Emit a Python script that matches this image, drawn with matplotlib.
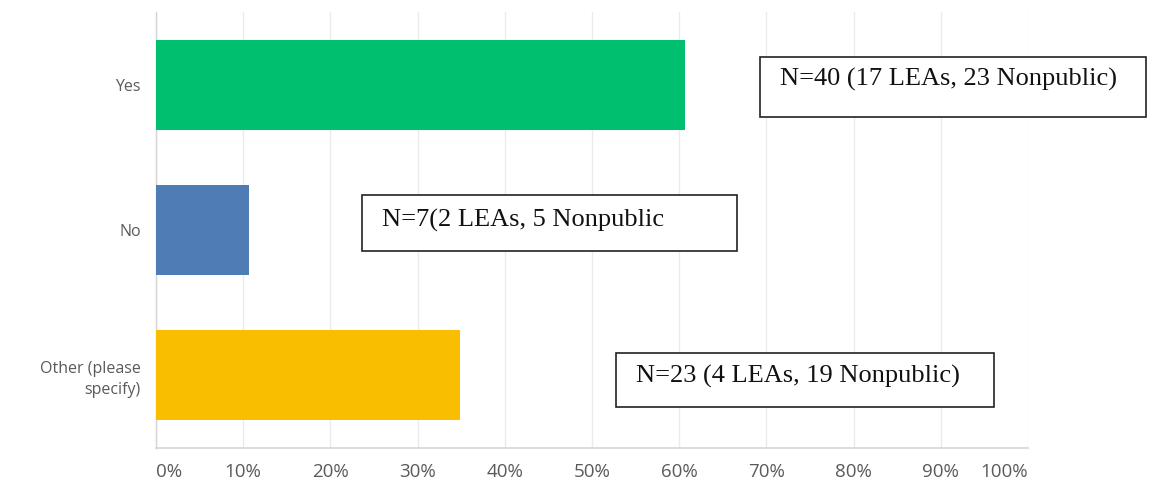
import matplotlib
matplotlib.use('Agg')
import matplotlib.pyplot as plt
from matplotlib.patches import Rectangle

categories = ['Yes', 'No', 'Other (please\nspecify)']
percents = [60.61, 10.61, 34.85]
colors = ['#00BF6F', '#507CB6', '#F9BE00']
notes = ['N=40 (17 LEAs, 23 Nonpublic)', 'N=7(2 LEAs, 5 Nonpublic', 'N=23 (4 LEAs, 19 Nonpublic)']
xticks = [0, 10, 20, 30, 40, 50, 60, 70, 80, 90, 100]
xticklabels = ['0%', '10%', '20%', '30%', '40%', '50%', '60%', '70%', '80%', '90%', '100%']

W, H = 1151, 493
fig = plt.figure(figsize=(W / 100, H / 100), dpi=100)


def fx(px):
    return px / W


def fy(py):
    return 1 - py / H


ax = fig.add_axes([fx(156), fy(448), fx(1028) - fx(156), fy(12) - fy(448)])

ypos = list(range(len(categories)))
ax.barh(ypos, percents, height=0.62, color=colors, zorder=3)
ax.set_ylim(2.5, -0.5)
ax.set_xlim(0, 100)

ax.set_xticks(xticks)
ax.set_xticklabels(xticklabels, fontfamily='Open Sans', fontsize=13.5, color='#5a5a5a')
ax.get_xticklabels()[0].set_horizontalalignment('left')
ax.get_xticklabels()[-1].set_horizontalalignment('right')
ax.set_yticks(ypos)
ax.set_yticklabels(categories, fontfamily='Open Sans', fontsize=11.5, color='#5a5a5a',
                   linespacing=1.4)
ax.tick_params(axis='both', length=0)
ax.tick_params(axis='x', pad=11)
ax.tick_params(axis='y', pad=11)

ax.grid(axis='x', color='#ebebeb', linewidth=1, zorder=0)
for s in ['top', 'right']:
    ax.spines[s].set_visible(False)
ax.spines['left'].set_color('#d5d5d5')
ax.spines['bottom'].set_color('#d5d5d5')
ax.spines['left'].set_linewidth(1)
ax.spines['bottom'].set_linewidth(1.2)

# text boxes (pixel layout from the reference)
boxes = [(760, 57, 1146, 117), (362, 195, 737, 251), (616, 353, 994, 407)]
text_pos = [(780, 79), (382, 220), (636, 376)]
for (x0, y0, x1, y1), (tx, ty), note in zip(boxes, text_pos, notes):
    rect = Rectangle((fx(x0), fy(y1)), fx(x1) - fx(x0), fy(y0) - fy(y1),
                     transform=fig.transFigure, fill=True, facecolor='white',
                     edgecolor='#222222', linewidth=1.2, zorder=5)
    fig.add_artist(rect)
    fig.text(fx(tx), fy(ty), note, fontfamily='Liberation Serif', fontsize=19,
             color='#111111', ha='left', va='center', zorder=6)

fig.savefig('out.png', dpi=100)
